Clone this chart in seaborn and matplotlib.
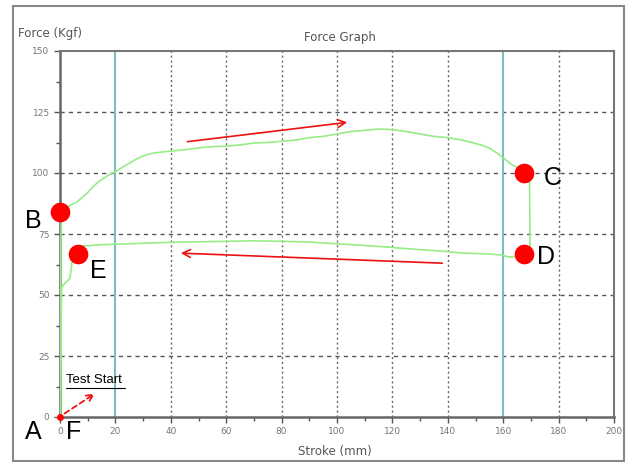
import matplotlib
matplotlib.use("Agg")
import matplotlib.pyplot as plt
import seaborn as sns
import pandas as pd
import numpy as np
from matplotlib.patches import Rectangle

# ---- data ----
stroke = [0, 0.2, 0.3, 0.5, 2, 4, 6, 8, 10, 12, 14, 16, 18, 20, 22, 25, 28, 30, 33, 36, 40,
          45, 50, 55, 60, 65, 70, 75, 80, 85, 90, 95, 100, 105, 110, 115, 120, 125, 130,
          135, 140, 145, 148, 152, 155, 158, 161, 163, 165, 167, 169.5,
          169.7, 168, 165, 162, 159, 155, 150, 145, 140, 135, 130, 125, 120, 110, 100,
          90, 80, 70, 60, 50, 40, 30, 20, 15, 10, 7, 6, 5, 4.3, 3.6, 2.5, 1.8, 0.6, 0.4, 0.2]
force = [0, 40, 70, 84, 85.5, 87, 88, 90, 92, 94.5, 96.5, 98, 99.5, 100.5, 102, 104, 106, 107,
         108, 108.5, 109, 109.5, 110.3, 110.8, 111, 111.5, 112.3, 112.5, 113, 113.5, 114.5,
         115, 116, 117, 117.5, 118, 117.8, 117, 116, 115, 114.5, 113.5, 112.7, 111.5, 110.2,
         108, 105.3, 103.5, 102.3, 101, 99.5,
         68, 67, 65.8, 65.6, 66.4, 66.8, 67, 67.2, 67.8, 68.2, 68.6, 69, 69.5, 70.3, 71,
         71.7, 72, 72.2, 72, 71.8, 71.6, 71.2, 70.8, 70.6, 70.2, 69.8, 69, 66.5, 63, 57,
         55.5, 55, 53, 40, 0]

point_labels = ["A", "B", "C", "D", "E"]
point_x = [0, 0, 167.5, 167.5, 6.5]
point_y = [0, 84, 100, 67, 67]
x_ticks = [0, 20, 40, 60, 80, 100, 120, 140, 160, 180, 200]
y_ticks = [0, 25, 50, 75, 100, 125, 150]
ref_lines = [20, 160]

sns.set_theme(style="white")
plt.rcParams['font.family'] = ['DejaVu Sans']

fig = plt.figure(figsize=(6.28, 4.62), dpi=100)
ax = fig.add_axes([60/628, 1-417/462, (614-60)/628, (417-51)/462])

df = pd.DataFrame({"Stroke": stroke, "Force": force})

# grid
for yv in y_ticks[1:-1]:
    ax.axhline(yv, color="#555555", lw=1.0, ls=(0, (3, 3)), zorder=1)
for xv in x_ticks[1:-1]:
    if xv in ref_lines:
        continue
    ax.axvline(xv, color="#666666", lw=1.0, ls=(0, (1.5, 2)), zorder=1)
for xv in ref_lines:
    ax.axvline(xv, color="#7fbcc0", lw=1.5, zorder=1.5)

sns.lineplot(data=df, x="Stroke", y="Force", sort=False, estimator=None,
             color="#96ec86", lw=1.2, ax=ax, zorder=3)

# red dots
ax.scatter(point_x[1:], point_y[1:], s=200, color="#ff0000", zorder=5, clip_on=False, linewidths=0)
ax.scatter([point_x[0]], [point_y[0]], s=25, color="#ff0000", zorder=5, clip_on=False, linewidths=0)

lab_font = dict(family="Liberation Sans", fontsize=18, color="black")
ax.text(-9.5, -6, "A", ha="center", va="center", **lab_font)
ax.text(5, -6, "F", ha="center", va="center", **lab_font)
ax.text(-9.5, 80.5, "B", ha="center", va="center", **lab_font)
ax.text(178, 98, "C", ha="center", va="center", **lab_font)
ax.text(175.5, 65.5, "D", ha="center", va="center", **lab_font)
ax.text(14, 60, "E", ha="center", va="center", **lab_font)

# arrows
ax.annotate("", xy=(104.7, 120.9), xytext=(45, 112.7),
            arrowprops=dict(arrowstyle="->", color="#ee1111", lw=1.2, mutation_scale=14))
ax.annotate("", xy=(42.6, 67.2), xytext=(139, 63),
            arrowprops=dict(arrowstyle="->", color="#ee1111", lw=1.2, mutation_scale=14))
ax.annotate("", xy=(13.4, 10.2), xytext=(0.8, 0.8),
            arrowprops=dict(arrowstyle="->", color="#ee1111", lw=1.3, ls=(0, (3, 2)),
                            mutation_scale=12))
ax.text(2.2, 12.6, "Test Start", fontsize=9.5, color="black", family="Liberation Sans",
        ha="left", va="bottom")
ax.plot([2.2, 23.5], [12.0, 12.0], color="black", lw=0.8)

ax.set_xlim(0, 200)
ax.set_ylim(0, 150)
ax.set_xticks(x_ticks)
ax.set_yticks(y_ticks)
ax.set_xticks(np.arange(0, 201, 10), minor=True)
ax.set_yticks(np.arange(0, 151, 12.5), minor=True)
ax.tick_params(axis="both", which="both", direction="out", colors="#555555",
               labelsize=6.5, labelcolor="#777777", bottom=True, left=True)
ax.tick_params(which="major", length=4, width=1)
ax.tick_params(which="minor", length=3, width=1)
ax.set_xlabel("")
ax.set_ylabel("")
ax.grid(False)

for side in ["left", "bottom"]:
    ax.spines[side].set_color("#666666")
    ax.spines[side].set_linewidth(1.8)
for side in ["top", "right"]:
    ax.spines[side].set_color("#777777")
    ax.spines[side].set_linewidth(1.5)

fig.text(340/628, 1-38/462, "Force Graph", ha="center", va="center", fontsize=8.5, color="#555555")
fig.text(18/628, 1-33/462, "Force (Kgf)", ha="left", va="center", fontsize=8.5, color="#555555")
fig.text(335/628, 1-451/462, "Stroke (mm)", ha="center", va="center", fontsize=8.5, color="#555555")

fig.patches.append(Rectangle((13/628, 1/462), (624-13)/628, (461-6)/462, transform=fig.transFigure,
                             fill=False, edgecolor="#888888", lw=1.5))

fig.savefig("out.png", dpi=100)
